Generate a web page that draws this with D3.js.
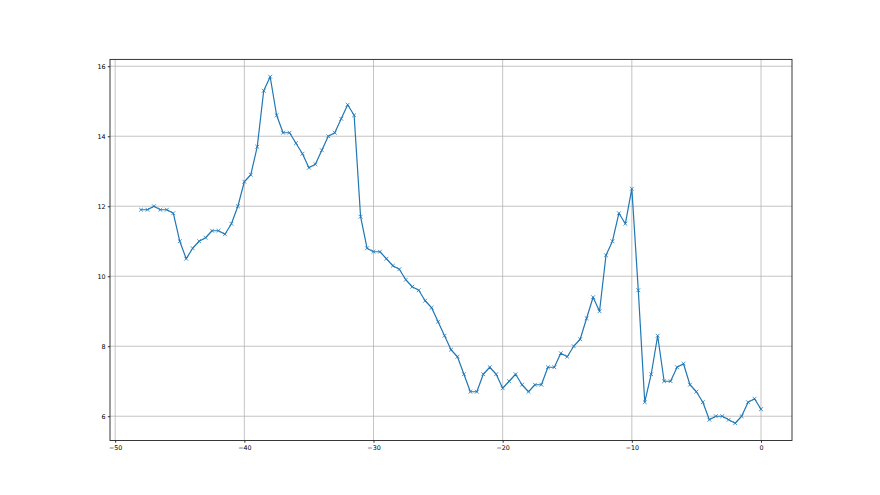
<!DOCTYPE html>
<html>
<head>
<meta charset="utf-8">
<script src="https://cdn.jsdelivr.net/npm/d3@7"></script>
<style>
  html, body { margin: 0; padding: 0; background: #fff; }
  svg { display: block; }
  text { font-family: "DejaVu Sans", sans-serif; }
</style>
</head>
<body>
<svg id="chart" width="880" height="495"></svg>
<script>
const xValues = [
  -48, -47.5, -47, -46.5, -46, -45.5, -45, -44.5, -44, -43.5,
  -43, -42.5, -42, -41.5, -41, -40.5, -40, -39.5, -39, -38.5,
  -38, -37.5, -37, -36.5, -36, -35.5, -35, -34.5, -34, -33.5,
  -33, -32.5, -32, -31.5, -31, -30.5, -30, -29.5, -29, -28.5,
  -28, -27.5, -27, -26.5, -26, -25.5, -25, -24.5, -24, -23.5,
  -23, -22.5, -22, -21.5, -21, -20.5, -20, -19.5, -19, -18.5,
  -18, -17.5, -17, -16.5, -16, -15.5, -15, -14.5, -14, -13.5,
  -13, -12.5, -12, -11.5, -11, -10.5, -10, -9.5, -9, -8.5,
  -8, -7.5, -7, -6.5, -6, -5.5, -5, -4.5, -4, -3.5,
  -3, -2.5, -2, -1.5, -1, -0.5, 0
];
const yValues = [
  11.9, 11.9, 12.0, 11.9, 11.9, 11.8, 11.0, 10.5, 10.8, 11.0,
  11.1, 11.3, 11.3, 11.2, 11.5, 12.0, 12.7, 12.9, 13.7, 15.3,
  15.7, 14.6, 14.1, 14.1, 13.8, 13.5, 13.1, 13.2, 13.6, 14.0,
  14.1, 14.5, 14.9, 14.6, 11.7, 10.8, 10.7, 10.7, 10.5, 10.3,
  10.2, 9.9, 9.7, 9.6, 9.3, 9.1, 8.7, 8.3, 7.9, 7.7,
  7.2, 6.7, 6.7, 7.2, 7.4, 7.2, 6.8, 7.0, 7.2, 6.9,
  6.7, 6.9, 6.9, 7.4, 7.4, 7.8, 7.7, 8.0, 8.2, 8.8,
  9.4, 9.0, 10.6, 11.0, 11.8, 11.5, 12.5, 9.6, 6.4, 7.2,
  8.3, 7.0, 7.0, 7.4, 7.5, 6.9, 6.7, 6.4, 5.9, 6.0,
  6.0, 5.9, 5.8, 6.0, 6.4, 6.5, 6.2
];
const xTicks = [-50, -40, -30, -20, -10, 0];
const yTicks = [6, 8, 10, 12, 14, 16];

const W = 880, H = 495;
const s = 880 / 1920; // figure scale factor
const pt = 100 / 72 * s; // px per point
const margin = { left: 0.125 * W, right: 0.9 * W, top: 0.12 * H, bottom: 0.89 * H };

const data = xValues.map((x, i) => ({ x, y: yValues[i] }));
const xMin = d3.min(xValues), xMax = d3.max(xValues);
const yMin = d3.min(yValues), yMax = d3.max(yValues);
const xPad = (xMax - xMin) * 0.05, yPad = (yMax - yMin) * 0.05;

const x = d3.scaleLinear().domain([xMin - xPad, xMax + xPad]).range([margin.left, margin.right]);
const y = d3.scaleLinear().domain([yMin - yPad, yMax + yPad]).range([margin.bottom, margin.top]);

const svg = d3.select("#chart");
const fontSize = 10 * pt;
const tickLen = 3.5 * pt;
const tickPad = 3.5 * pt;
const fmt = d => (d < 0 ? "\u2212" + Math.abs(d) : String(d));

// grid
const grid = svg.append("g");
grid.selectAll("line.gx").data(xTicks).join("line")
  .attr("x1", d => x(d)).attr("x2", d => x(d))
  .attr("y1", margin.top).attr("y2", margin.bottom)
  .attr("stroke", "#b0b0b0").attr("stroke-width", 0.75);
grid.selectAll("line.gy").data(yTicks).join("line")
  .attr("y1", d => y(d)).attr("y2", d => y(d))
  .attr("x1", margin.left).attr("x2", margin.right)
  .attr("stroke", "#b0b0b0").attr("stroke-width", 0.75);

// line
const line = d3.line().x(d => x(d.x)).y(d => y(d.y));
svg.append("path").datum(data)
  .attr("d", line)
  .attr("fill", "none")
  .attr("stroke", "#1f77b4")
  .attr("stroke-width", 1.2)
  .attr("stroke-linejoin", "round")
  .attr("stroke-linecap", "square");

// markers 'x'
const ms = 6 * pt / 2;
svg.append("g").selectAll("path").data(data).join("path")
  .attr("d", d => {
    const cx = x(d.x), cy = y(d.y);
    return `M${cx - ms},${cy - ms}L${cx + ms},${cy + ms}M${cx - ms},${cy + ms}L${cx + ms},${cy - ms}`;
  })
  .attr("stroke", "#1f77b4")
  .attr("stroke-width", 0.8)
  .attr("fill", "none");

// axes using d3 axis
const xAxis = d3.axisBottom(x).tickValues(xTicks).tickFormat(fmt).tickSize(tickLen).tickPadding(tickPad);
const yAxis = d3.axisLeft(y).tickValues(yTicks).tickFormat(fmt).tickSize(tickLen).tickPadding(tickPad);

const gx = svg.append("g").attr("transform", `translate(0,${margin.bottom})`).call(xAxis);
const gy = svg.append("g").attr("transform", `translate(${margin.left},0)`).call(yAxis);
[gx, gy].forEach(g => {
  g.select(".domain").remove();
  g.selectAll(".tick line").attr("stroke", "#000").attr("stroke-width", 0.8);
  g.selectAll(".tick text").attr("fill", "#000").style("font-size", fontSize + "px")
    .style("font-family", "'DejaVu Sans', sans-serif");
});

// spines
svg.append("rect")
  .attr("x", margin.left).attr("y", margin.top)
  .attr("width", margin.right - margin.left)
  .attr("height", margin.bottom - margin.top)
  .attr("fill", "none").attr("stroke", "#222").attr("stroke-width", 0.9);
</script>
</body>
</html>
